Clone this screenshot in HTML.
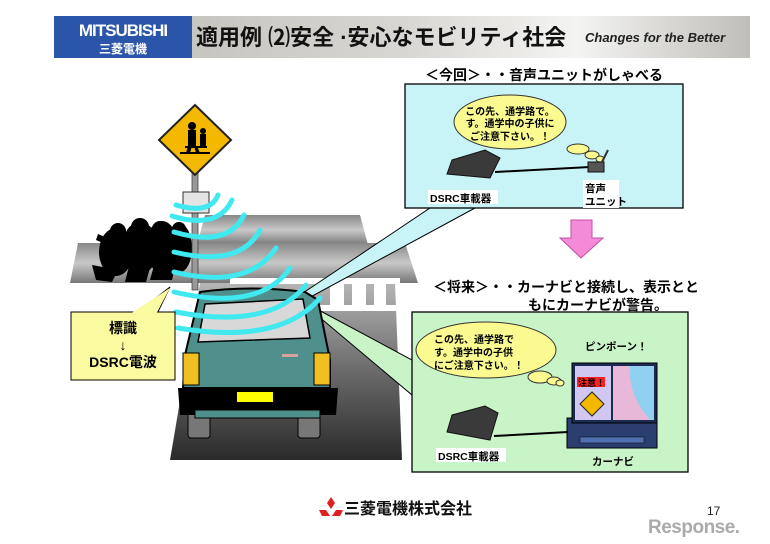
<!DOCTYPE html>
<html><head><meta charset="utf-8"><style>
body{margin:0;background:#fff;width:770px;height:544px;overflow:hidden}
svg{display:block}
text{font-family:"Liberation Sans","Noto Sans CJK JP",sans-serif}
</style></head><body>
<svg width="770" height="544" viewBox="0 0 770 544" xmlns="http://www.w3.org/2000/svg">
<defs>
<linearGradient id="hg" x1="0" x2="1" y1="0" y2="0"><stop offset="0" stop-color="#bdbab4"/><stop offset="0.5" stop-color="#d8d6d2"/><stop offset="0.75" stop-color="#f4f4f2"/><stop offset="1" stop-color="#c0beb9"/></linearGradient>
<linearGradient id="rd" x1="0" x2="0" y1="0" y2="1"><stop offset="0" stop-color="#b5b5b5"/><stop offset="0.5" stop-color="#6a6a6a"/><stop offset="1" stop-color="#2a2a2a"/></linearGradient>
<linearGradient id="bd" x1="0" x2="0" y1="0" y2="1"><stop offset="0" stop-color="#888"/><stop offset="0.5" stop-color="#c8c8c8"/><stop offset="1" stop-color="#777"/></linearGradient>
</defs>
<rect x="54" y="16" width="696" height="42" fill="url(#hg)"/>
<rect x="54" y="16" width="138" height="42" fill="#2a55a8"/>
<text x="123" y="36" font-size="17" font-weight="bold" fill="#fff" text-anchor="middle" letter-spacing="-1">MITSUBISHI</text>
<text x="123" y="53" font-size="12" font-weight="bold" fill="#fff" text-anchor="middle">三菱電機</text>
<text x="196" y="45" font-size="22" font-weight="bold" fill="#111">適用例 ⑵安全 ·安心なモビリティ社会</text>
<text x="585" y="42" font-size="13" font-weight="bold" font-style="italic" fill="#222">Changes for the Better</text>

<polygon points="205,215 360,215 368,245 197,245" fill="url(#bd)"/>
<polygon points="78,243 405,243 418,283 70,283" fill="url(#bd)"/>
<polygon points="200,283 395,283 402,460 170,460" fill="url(#rd)"/>
<g fill="#fff"><rect x="230" y="278" width="170" height="6"/><rect x="330" y="283" width="14" height="26"/><rect x="352" y="283" width="14" height="26"/><rect x="374" y="283" width="12" height="26"/><rect x="310" y="305" width="100" height="6"/></g>
<g fill="#000">
<ellipse cx="116" cy="252" rx="17" ry="24"/><ellipse cx="140" cy="248" rx="18" ry="26"/><ellipse cx="162" cy="247" rx="16" ry="26"/><ellipse cx="180" cy="248" rx="12" ry="24"/>
<circle cx="118" cy="231" r="8"/><circle cx="140" cy="227" r="9"/><circle cx="160" cy="229" r="8"/><circle cx="179" cy="229" r="7"/>
<polygon points="92,265 118,270 112,282 96,280"/><polygon points="130,262 150,268 146,282 125,282"/><polygon points="155,262 175,268 172,280 150,280"/>
<polygon points="98,234 112,240 110,246 96,240"/>
</g>
<rect x="192" y="172" width="6" height="118" fill="#999" stroke="#333" stroke-width=".7"/>
<rect x="183" y="192" width="26" height="21" fill="#e4e4e4" stroke="#333"/>
<polygon points="195,105 231,140 195,175 159,140" fill="#f4b800" stroke="#222" stroke-width="2"/>
<g fill="#000"><circle cx="192" cy="126" r="4"/><rect x="188" y="130" width="8" height="16"/><circle cx="203" cy="131" r="3"/><rect x="200" y="134" width="6" height="12"/><rect x="185" y="146" width="22" height="2"/><polygon points="188,146 186,153 190,153 192,146"/><polygon points="194,146 196,153 200,153 197,146"/><rect x="180" y="152" width="30" height="2"/></g>
<polygon points="300,295 430,208 475,208 305,300" fill="#c8f4f8" stroke="#000" stroke-width="1"/>
<polygon points="300,300 412,360 412,395 305,305" fill="#c8f4c8" stroke="#000" stroke-width="1"/>
<rect x="188" y="400" width="22" height="38" rx="3" fill="#777" stroke="#000"/>
<rect x="298" y="400" width="22" height="38" rx="3" fill="#777" stroke="#000"/>
<path d="M200,292 Q250,285 305,292 L318,300 L330,360 L330,388 L183,388 L185,355 Z" fill="#4f8f8c" stroke="#000" stroke-width="2"/>
<path d="M205,304 L303,299 L310,338 L198,342 Z" fill="#d8d8d8" stroke="#000" stroke-width="1.5"/>
<rect x="282" y="354" width="16" height="3" fill="#d8a0a0"/>
<rect x="183" y="353" width="16" height="32" fill="#f0c020" stroke="#000"/>
<rect x="314" y="353" width="16" height="32" fill="#f0c020" stroke="#000"/>
<path d="M178,388 L338,388 L336,415 L180,415 Z" fill="#000"/>
<rect x="237" y="392" width="36" height="10" fill="#ffff00"/>
<rect x="195" y="410" width="125" height="8" fill="#4f8f8c" stroke="#000"/>
<g fill="none" stroke="#40e8f0" stroke-width="5" stroke-linecap="round">
<path d="M176,205 Q210,215 218,195"/><path d="M172,216 Q218,230 232,200"/><path d="M174,232 Q228,248 244,215"/><path d="M174,252 Q240,268 260,230"/><path d="M174,272 Q248,290 276,248"/><path d="M174,292 Q260,312 290,268"/><path d="M176,312 Q270,330 306,285"/><path d="M178,328 Q280,345 320,298"/>
</g>
<polygon points="170,287 130,318 155,318" fill="#fafaa0" stroke="#000"/>
<rect x="71" y="312" width="104" height="68" fill="#fafaa0" stroke="#000"/>
<polygon points="130,314 170,288 156,314" fill="#fafaa0"/>
<text x="123" y="333" font-size="14" font-weight="bold" text-anchor="middle">標識</text>
<text x="123" y="350" font-size="14" text-anchor="middle">↓</text>
<text x="123" y="367" font-size="14" font-weight="bold" text-anchor="middle">DSRC電波</text>

<text x="425" y="80" font-size="14" font-weight="bold">＜今回＞・・音声ユニットがしゃべる</text>
<rect x="405" y="84" width="278" height="124" fill="#c8f4f8" stroke="#000" stroke-width="1.3"/>
<g fill="#fafa90" stroke="#333"><ellipse cx="510" cy="122" rx="56" ry="27"/><ellipse cx="578" cy="149" rx="11" ry="5"/><ellipse cx="592" cy="155" rx="7" ry="4"/><ellipse cx="600" cy="159" rx="4" ry="3"/></g>
<text x="510" y="115" font-size="10" font-weight="bold" text-anchor="middle">この先、通学路で。</text>
<text x="510" y="127" font-size="10" font-weight="bold" text-anchor="middle">す。通学中の子供に</text>
<text x="510" y="140" font-size="10" font-weight="bold" text-anchor="middle">ご注意下さい。！</text>
<polygon points="452,160 485,150 500,158 490,178 447,174" fill="#3a3a3a" stroke="#111"/>
<line x1="495" y1="172" x2="590" y2="167" stroke="#000" stroke-width="2"/>
<rect x="588" y="162" width="16" height="10" fill="#555" stroke="#111"/><line x1="602" y1="162" x2="608" y2="150" stroke="#333" stroke-width="2"/>
<rect x="428" y="190" width="70" height="14" fill="#fff"/><text x="430" y="202" font-size="10.5" font-weight="bold">DSRC車載器</text>
<rect x="583" y="180" width="36" height="28" fill="#fff"/><text x="585" y="192" font-size="10.5" font-weight="bold">音声</text><text x="585" y="205" font-size="10.5" font-weight="bold">ユニット</text>

<polygon points="571,220 592,220 592,238 603,238 581,258 560,238 571,238" fill="#f48ad8" stroke="#c050a0"/>

<text x="433" y="292" font-size="14" font-weight="bold">＜将来＞・・カーナビと接続し、表示とと</text>
<text x="528" y="310" font-size="14" font-weight="bold">もにカーナビが警告。</text>
<rect x="412" y="312" width="276" height="160" fill="#c8f4c8" stroke="#000" stroke-width="1.3"/>
<g fill="#fafa90" stroke="#333"><ellipse cx="486" cy="350" rx="70" ry="28"/><ellipse cx="540" cy="377" rx="12" ry="6"/><ellipse cx="554" cy="381" rx="7" ry="4"/><ellipse cx="560" cy="383" rx="4" ry="3"/></g>
<text x="434" y="343" font-size="10" font-weight="bold">この先、通学路で</text>
<text x="434" y="356" font-size="10" font-weight="bold">す。通学中の子供</text>
<text x="434" y="369" font-size="10" font-weight="bold">にご注意下さい。！</text>
<text x="585" y="350" font-size="10.5" font-weight="bold">ピンポーン！</text>
<rect x="567" y="418" width="90" height="30" fill="#2a3e70" stroke="#000"/>
<rect x="580" y="437" width="64" height="6" fill="#5070b0" stroke="#000" stroke-width=".5"/>
<rect x="572" y="363" width="85" height="60" fill="#1a2a50" stroke="#000"/>
<rect x="575" y="366" width="36" height="54" fill="#d0c8f0"/>
<rect x="613" y="366" width="41" height="54" fill="#e8b8d8"/>
<path d="M630,366 Q628,395 650,420 L654,420 L654,366 Z" fill="#90d0f0"/>
<rect x="577" y="377" width="28" height="10" fill="#ff2020"/><text x="578" y="386" font-size="9" font-weight="bold">注意！</text>
<polygon points="592,392 604,404 592,416 580,404" fill="#f4b800" stroke="#222"/>
<polygon points="452,415 485,406 498,413 490,440 447,432" fill="#3a3a3a" stroke="#111"/>
<line x1="494" y1="436" x2="568" y2="432" stroke="#000" stroke-width="2"/>
<rect x="436" y="448" width="70" height="14" fill="#fff"/><text x="438" y="460" font-size="10.5" font-weight="bold">DSRC車載器</text>
<text x="592" y="465" font-size="10.5" font-weight="bold">カーナビ</text>

<g fill="#e02020"><polygon points="331,497 335,503 331,509 327,503"/><polygon points="326,510 330,516 322,516 319,510"/><polygon points="336,510 343,510 340,516 332,516"/></g>
<text x="344" y="514" font-size="16" font-weight="bold" fill="#111">三菱電機株式会社</text>
<text x="707" y="515" font-size="12" font-family="Liberation Serif" fill="#222">17</text>
<text x="648" y="533" font-size="19" fill="#aaa" font-weight="bold" letter-spacing="-0.5">Response.</text>
</svg>
</body></html>
